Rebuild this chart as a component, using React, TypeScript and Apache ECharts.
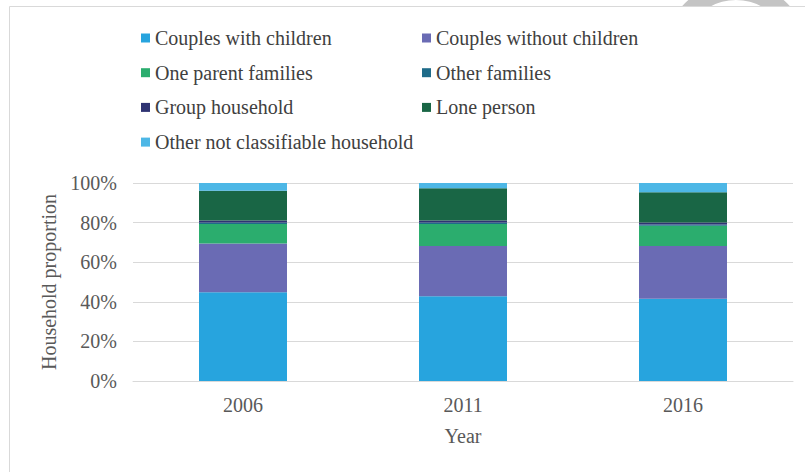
import React, { useEffect, useRef } from "react";
import * as echarts from "echarts";

const years = ["2006", "2011", "2016"];
const seriesNames = [
  "Couples with children",
  "Couples without children",
  "One parent families",
  "Other families",
  "Group household",
  "Lone person",
  "Other not classifiable household",
];
const couplesWithChildren = [44.8, 42.8, 41.6];
const couplesWithoutChildren = [24.7, 25.4, 26.6];
const oneParentFamilies = [9.8, 11.1, 10.2];
const otherFamilies = [0.8, 0.8, 0.7];
const groupHousehold = [0.9, 0.9, 0.9];
const lonePerson = [15.1, 16.3, 15.3];
const otherNotClassifiable = [3.9, 2.7, 4.7];
const seriesColors = ["#27A4DE", "#6A6BB4", "#2BAD6E", "#1E6B89", "#2E3372", "#196645", "#4DB7E6"];

const FONT = "'Liberation Serif', serif";
const TEXT = "#595959";

export default function App() {
  const ref = useRef<HTMLDivElement>(null);

  useEffect(() => {
    document.body.style.margin = "0";
    if (!ref.current) return;
    const chart = echarts.init(ref.current, null, { renderer: "svg" });
    const values = [
      couplesWithChildren,
      couplesWithoutChildren,
      oneParentFamilies,
      otherFamilies,
      groupHousehold,
      lonePerson,
      otherNotClassifiable,
    ];
    const legendCommon = {
      orient: "vertical" as const,
      top: 23,
      itemWidth: 9,
      itemHeight: 9,
      itemGap: 14.7,
      icon: "rect",
      textStyle: { fontFamily: FONT, fontSize: 20, color: "#404040" },
    };
    chart.setOption({
      animation: false,
      backgroundColor: "#ffffff",
      textStyle: { fontFamily: FONT },
      graphic: [
        {
          type: "ring",
          shape: { cx: 736, cy: 54, r: 72, r0: 54 },
          style: { fill: "#c4c4c4" },
          z: -20,
        },
        {
          type: "rect",
          shape: { x: 9.5, y: 6.5, width: 900, height: 600 },
          style: { fill: "#ffffff", stroke: "#d9d9d9", lineWidth: 1 },
          z: -10,
        },
      ],
      legend: [
        {
          ...legendCommon,
          left: 136,
          data: [seriesNames[0], seriesNames[2], seriesNames[4], seriesNames[6]],
        },
        {
          ...legendCommon,
          left: 417,
          data: [seriesNames[1], seriesNames[3], seriesNames[5]],
        },
      ],
      grid: { left: 133, right: 12, top: 183, bottom: 91 },
      xAxis: {
        type: "category",
        data: years,
        name: "Year",
        nameLocation: "middle",
        nameGap: 45,
        nameTextStyle: { fontFamily: FONT, fontSize: 20, color: TEXT },
        axisLine: { lineStyle: { color: "#d9d9d9" } },
        axisTick: { show: false },
        axisLabel: { fontFamily: FONT, fontSize: 20, color: TEXT, margin: 14 },
      },
      yAxis: {
        type: "value",
        min: 0,
        max: 100,
        interval: 20,
        name: "Household proportion",
        nameLocation: "middle",
        nameGap: 73,
        nameRotate: 90,
        nameTextStyle: { fontFamily: FONT, fontSize: 20, color: TEXT },
        axisLabel: { formatter: "{value}%", fontFamily: FONT, fontSize: 20, color: TEXT, margin: 16 },
        splitLine: { lineStyle: { color: "#d9d9d9" } },
        axisLine: { show: false },
        axisTick: { show: false },
      },
      series: seriesNames.map((name, i) => ({
        name,
        type: "bar",
        stack: "total",
        barWidth: 88,
        data: values[i],
        itemStyle: { color: seriesColors[i] },
      })),
    });
    return () => chart.dispose();
  }, []);

  return <div ref={ref} style={{ width: 805, height: 472 }} />;
}
